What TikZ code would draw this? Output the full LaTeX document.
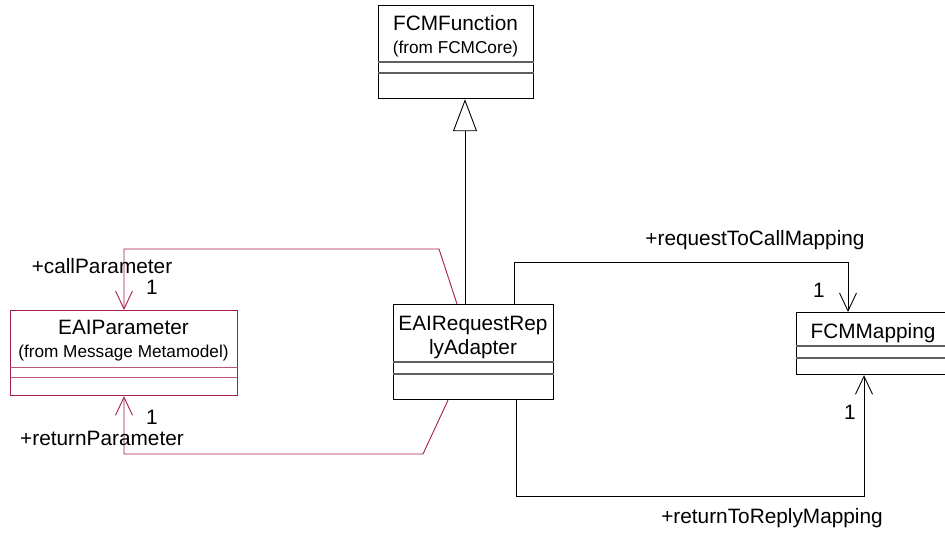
\documentclass[tikz,border=0pt]{standalone}
\usepackage{fontspec}
\setmainfont{Liberation Sans}
\usetikzlibrary{arrows.meta}
\definecolor{umlred}{RGB}{165,30,70}
\definecolor{compgray}{RGB}{95,95,95}
\begin{document}
\begin{tikzpicture}[x=1pt,y=-1pt,
  classbox/.style={draw, line width=1.2pt, inner sep=0pt, anchor=north west},
  comp/.style={draw=compgray, line width=1.1pt},
  ttl/.style={font=\fontsize{20.8}{24}\selectfont, inner sep=0pt},
  subttl/.style={font=\fontsize{17.2}{20}\selectfont, inner sep=0pt},
  lbl/.style={font=\fontsize{20.8}{24}\selectfont, inner sep=0pt},
  assoc/.style={line width=0.9pt, -{Straight Barb[length=18pt,width=17pt]}}]
\useasboundingbox (0,0) rectangle (945,533);
\clip (0,0) rectangle (945,533);
\fill[white] (0,0) rectangle (945,533);

% FCMFunction
\node[classbox, minimum width=155pt, minimum height=93pt] (fcmf) at (378,5) {};
\node[ttl] (fcmft) at (455.5,23) {FCMFunction};
\node[subttl] (fcmfs) at (455.5,49) {(from FCMCore)};
\draw[comp] ([yshift=-57pt]fcmf.north west) -- ([yshift=-57pt]fcmf.north east);
\draw[comp] ([yshift=-68pt]fcmf.north west) -- ([yshift=-68pt]fcmf.north east);

% EAIRequestReplyAdapter
\node[classbox, minimum width=160pt, minimum height=95pt] (adapter) at (393,304) {};
\node[ttl] (adt1) at (473,325) {EAIRequestRep};
\node[ttl] (adt2) at (473,349) {lyAdapter};
\draw[comp] ([yshift=-58pt]adapter.north west) -- ([yshift=-58pt]adapter.north east);
\draw[comp] ([yshift=-70pt]adapter.north west) -- ([yshift=-70pt]adapter.north east);

% EAIParameter
\node[classbox, draw=umlred, minimum width=227pt, minimum height=85pt] (eaip) at (10,310) {};
\node[ttl] (eaipt) at (123.5,327) {EAIParameter};
\node[subttl] (eaips) at (123.5,353) {(from Message Metamodel)};
\draw[draw=umlred!75, line width=0.9pt] ([yshift=-57pt]eaip.north west) -- ([yshift=-57pt]eaip.north east);
\draw[draw=umlred!75, line width=0.9pt] ([yshift=-67pt]eaip.north west) -- ([yshift=-67pt]eaip.north east);

% FCMMapping
\node[classbox, minimum width=154pt, minimum height=62pt] (fcmm) at (796,312) {};
\node[ttl] (fcmmt) at (873,333) {FCMMapping};
\draw[comp] ([yshift=-34pt]fcmm.north west) -- ([yshift=-34pt]fcmm.north east);
\draw[comp] ([yshift=-46pt]fcmm.north west) -- ([yshift=-46pt]fcmm.north east);

% generalization
\coordinate (g) at (465,0);
\draw[line width=0.9pt, -{Triangle[open, length=32pt, width=24pt, fill=white]}]
  (adapter.north -| g) -- (fcmf.south -| g);

% associations to EAIParameter
\draw[assoc, umlred] ([xshift=64pt]adapter.north west) -- (439,249) -- (124,249)
  -- ([xshift=114pt]eaip.north west);
\draw[assoc, umlred] ([xshift=55pt]adapter.south west) -- (423,454) -- (124,454)
  -- ([xshift=114pt]eaip.south west);

% associations to FCMMapping
\draw[assoc] ([xshift=121pt]adapter.north west) -- (514,262) -- (848,262)
  -- ([xshift=52pt]fcmm.north west);
\draw[assoc] ([xshift=123pt]adapter.south west) -- (516,496) -- (864,496)
  -- ([xshift=68pt]fcmm.south west);

% labels
\node[lbl] (l1) at (102,266) {+callParameter};
\node[lbl] (l2) at (152,287) {1};
\node[lbl] (l3) at (152,417) {1};
\node[lbl] (l4) at (102,438) {+returnParameter};
\node[lbl] (l5) at (755,240) {+requestToCallMapping};
\node[lbl] (l6) at (819,290) {1};
\node[lbl] (l7) at (850,412) {1};
\node[lbl] (l8) at (772,518) {+returnToReplyMapping};
\end{tikzpicture}
\end{document}
